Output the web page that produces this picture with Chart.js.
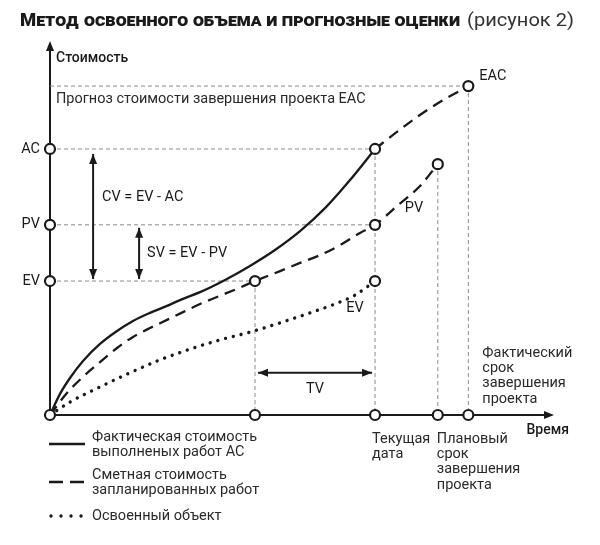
<!DOCTYPE html>
<html><head><meta charset="utf-8">
<script src="https://cdn.jsdelivr.net/npm/chart.js@4"></script>
<style>html,body{margin:0;padding:0;background:#fff}</style>
</head><body>
<canvas id="c" width="600" height="545"></canvas>
<script>
// ---- data (time units 0..120, cost units 0..100) ----
const acX = [0, 2.39, 4.78, 7.89, 11.95, 16.02, 19.84, 23.9, 27.97, 31.8, 35.86, 41.84, 47.8, 53.79, 59.77, 65.74, 71.72, 77.7];
const acY = [0, 5.7, 10.0, 14.6, 19.2, 22.7, 25.4, 27.6, 29.5, 31.4, 33.2, 36.5, 40.3, 44.6, 49.7, 55.9, 63.5, 71.9];
const forecastX = [77.7, 82.0, 87.7, 93.2, 100];
const forecastY = [71.9, 75.7, 80.5, 84.6, 88.9];
const pvX = [0, 4.06, 7.89, 11.95, 16.02, 19.84, 23.9, 27.97, 31.8, 35.86, 39.92, 44.7, 49, 55.0, 59.77, 64.55, 69.33, 74.1, 77.7, 82.95, 88.45, 92.7];
const pvY = [0, 5.95, 10.3, 14.3, 18.1, 21.1, 23.5, 25.7, 27.8, 30.0, 31.9, 34.1, 36.2, 38.9, 41.1, 43.2, 45.9, 49.2, 51.4, 56.5, 61.9, 67.8];
const evX = [0, 4.78, 11.95, 19.13, 26.3, 33.47, 40.64, 47.8, 54.98, 62.16, 68.13, 72.91, 75.78, 77.7];
const evY = [0, 3.5, 7.6, 11.4, 14.9, 17.8, 20.3, 22.4, 24.9, 27.6, 30.0, 32.4, 34.6, 36.2];

const costMarks = ['AC', 'PV', 'EV'];
const costValues = [71.9, 51.4, 36.2];
const EAC_VALUE = 88.9;
const PLAN_BUDGET = 67.8;
const timeValues = [49, 77.7, 92.7, 100];   // EV date, current date, planned end, actual end
const timeLabels = [[], ['Текущая', 'дата'], ['Плановый', 'срок', 'завершения', 'проекта'], ['Фактический', 'срок', 'завершения', 'проекта']];

const legendLabels = [['Фактическая стоимость', 'выполненых работ АС'], ['Сметная стоимость', 'запланированных работ'], ['Освоенный объект']];

const T_EV = timeValues[0], T_NOW = timeValues[1], T_PLAN = timeValues[2], T_END = timeValues[3];
const AC = costValues[0], PV = costValues[1], EV = costValues[2];

const pts = (xs, ys) => xs.map((x, i) => ({x, y: ys[i]}));
const GAP = {x: null, y: null};
const guides = [
  {x:0,y:EAC_VALUE},{x:T_END,y:EAC_VALUE},GAP,
  {x:0,y:AC},{x:T_NOW,y:AC},GAP,
  {x:0,y:PV},{x:T_NOW,y:PV},GAP,
  {x:0,y:EV},{x:T_EV,y:EV},GAP,
  {x:T_EV,y:EV},{x:T_EV,y:0},GAP,
  {x:T_NOW,y:AC},{x:T_NOW,y:0},GAP,
  {x:T_PLAN,y:PLAN_BUDGET},{x:T_PLAN,y:0},GAP,
  {x:T_END,y:EAC_VALUE},{x:T_END,y:0}
];
const markers = [
  {x:0,y:0},{x:0,y:AC},{x:0,y:PV},{x:0,y:EV},
  {x:T_EV,y:EV},{x:T_NOW,y:AC},{x:T_NOW,y:PV},{x:T_NOW,y:EV},
  {x:T_PLAN,y:PLAN_BUDGET},{x:T_END,y:EAC_VALUE},
  {x:T_EV,y:0},{x:T_NOW,y:0},{x:T_PLAN,y:0},{x:T_END,y:0}
];

const INK = '#1a1a1a';
const FONT = 'Roboto, "Noto Sans", sans-serif';

function arrowHead(ctx, x, y, dx, dy) {
  const len = 10, w = 4;
  const n = Math.hypot(dx, dy); dx /= n; dy /= n;
  ctx.beginPath();
  ctx.moveTo(x, y);
  ctx.lineTo(x - dx*len - dy*w, y - dy*len + dx*w);
  ctx.lineTo(x - dx*len + dy*w, y - dy*len - dx*w);
  ctx.closePath(); ctx.fill();
}
function dblArrow(ctx, x1, y1, x2, y2) {
  ctx.beginPath(); ctx.moveTo(x1, y1); ctx.lineTo(x2, y2); ctx.stroke();
  arrowHead(ctx, x1, y1, x1 - x2, y1 - y2);
  arrowHead(ctx, x2, y2, x2 - x1, y2 - y1);
}
function fitText(ctx, s, x, y, width) {
  const w = ctx.measureText(s).width;
  ctx.save(); ctx.translate(x, y); ctx.scale(width / w, 1); ctx.fillText(s, 0, 0); ctx.restore();
}

const drawPlugin = {
  id: 'evm',
  beforeDatasetsDraw(chart) {
    const {ctx, scales: {x, y}} = chart;
    const ox = x.getPixelForValue(0), oy = y.getPixelForValue(0);
    ctx.save();
    ctx.strokeStyle = INK; ctx.fillStyle = INK; ctx.lineWidth = 2;
    ctx.beginPath(); ctx.moveTo(ox, oy); ctx.lineTo(ox, y.getPixelForValue(100) + 4); ctx.stroke();
    arrowHead(ctx, ox, y.getPixelForValue(100) - 4, 0, -1);
    ctx.beginPath(); ctx.moveTo(ox, oy); ctx.lineTo(x.getPixelForValue(120) - 4, oy); ctx.stroke();
    arrowHead(ctx, x.getPixelForValue(120) + 2, oy, 1, 0);
    ctx.restore();
  },
  afterDatasetsDraw(chart) {
    const {ctx, scales: {x, y}} = chart;
    const ox = x.getPixelForValue(0), oy = y.getPixelForValue(0);
    ctx.save();
    ctx.fillStyle = INK; ctx.strokeStyle = INK;
    ctx.textBaseline = 'middle';

    // title
    ctx.textAlign = 'left';
    ctx.font = 'small-caps 900 18px ' + FONT;
    fitText(ctx, 'Метод освоенного объема и прогнозные оценки', 20, 21, 440);
    ctx.font = '400 18px ' + FONT;
    ctx.fillStyle = '#333';
    fitText(ctx, '(рисунок 2)', 467, 21, 107);
    ctx.fillStyle = INK;

    // axis titles
    ctx.font = '500 14px ' + FONT;
    ctx.fillText('Стоимость', ox + 6, 58);
    ctx.textAlign = 'right';
    ctx.fillText('Время', x.getPixelForValue(120) + 17, oy + 15);

    ctx.font = '400 14.5px ' + FONT;
    ctx.textAlign = 'left';
    ctx.fillStyle = '#2a2a2a';
    ctx.fillText('Прогноз стоимости завершения проекта EAC', ox + 6, y.getPixelForValue(EAC_VALUE) + 13);
    ctx.fillStyle = INK;
    ctx.fillText('EAC', x.getPixelForValue(T_END) + 11, y.getPixelForValue(EAC_VALUE) - 10);

    // cost marks at y axis
    ctx.textAlign = 'right';
    costMarks.forEach((m, i) => ctx.fillText(m, ox - 10, y.getPixelForValue(costValues[i])));

    // curve labels
    ctx.textAlign = 'center';
    ctx.fillText('PV', 414, 208);
    ctx.fillText('EV', 355, 308);

    // variance arrows
    ctx.lineWidth = 2;
    const cvX = x.getPixelForValue(10.3), svX = x.getPixelForValue(21.3);
    dblArrow(ctx, cvX, y.getPixelForValue(AC) + 5, cvX, y.getPixelForValue(EV) - 2);
    dblArrow(ctx, svX, y.getPixelForValue(PV) + 3, svX, y.getPixelForValue(EV) - 2);
    ctx.textAlign = 'left';
    ctx.fillText('CV = EV - AC', cvX + 9, 197);
    ctx.fillText('SV = EV - PV', svX + 8, 253);
    const tvY = y.getPixelForValue(11.4);
    dblArrow(ctx, x.getPixelForValue(T_EV) + 3, tvY, x.getPixelForValue(T_NOW) - 3, tvY);
    ctx.textAlign = 'center';
    ctx.fillText('TV', (x.getPixelForValue(T_EV) + x.getPixelForValue(T_NOW)) / 2, tvY + 17);

    // time labels
    ctx.textAlign = 'left';
    ctx.fillStyle = '#2a2a2a';
    timeLabels[1].forEach((s, i) => ctx.fillText(s, x.getPixelForValue(T_NOW) - 3, oy + 24 + i * 15.3));
    timeLabels[2].forEach((s, i) => ctx.fillText(s, x.getPixelForValue(T_PLAN) - 1, oy + 24 + i * 15.3));
    timeLabels[3].forEach((s, i) => ctx.fillText(s, x.getPixelForValue(T_END) + 14, 353 + i * 15.3));

    // legend
    const ds = chart.data.datasets;
    const rows = [{d: ds[0], y: 444, ty: 437}, {d: ds[2], y: 482, ty: 475}, {d: ds[3], y: 516, ty: 516}];
    rows.forEach((r, i) => {
      ctx.save();
      ctx.strokeStyle = INK;
      ctx.lineWidth = r.d.borderWidth;
      ctx.lineCap = r.d.borderCapStyle || 'butt';
      if (i === 1) ctx.setLineDash([14, 7]);
      else if (i === 2) ctx.setLineDash([0.01, 10]);
      ctx.beginPath(); ctx.moveTo(i === 2 ? 51 : 49, r.y); ctx.lineTo(85, r.y); ctx.stroke();
      ctx.restore();
      legendLabels[i].forEach((s, j) => ctx.fillText(s, 92, r.ty + j * 15.3));
    });
    ctx.restore();
  }
};

new Chart(document.getElementById('c'), {
  type: 'line',
  data: {
    datasets: [
      {label: 'AC', data: pts(acX, acY), borderColor: INK, borderWidth: 2.3, pointRadius: 0, cubicInterpolationMode: 'monotone', clip: false, order: 1},
      {label: 'EAC forecast', data: pts(forecastX, forecastY), borderColor: INK, borderWidth: 2.3, borderDash: [11, 7], pointRadius: 0, cubicInterpolationMode: 'monotone', clip: false, order: 1},
      {label: 'PV', data: pts(pvX, pvY), borderColor: INK, borderWidth: 2.3, borderDash: [11, 7], pointRadius: 0, cubicInterpolationMode: 'monotone', clip: false, order: 1},
      {label: 'EV', data: pts(evX, evY), borderColor: INK, borderWidth: 3.4, borderDash: [0.01, 8], borderCapStyle: 'round', pointRadius: 0, cubicInterpolationMode: 'monotone', clip: false, order: 1},
      {label: 'guides', data: guides, borderColor: '#8a8a8a', borderWidth: 1, borderDash: [4, 3], pointRadius: 0, tension: 0, spanGaps: false, clip: false, order: 2},
      {label: 'markers', data: markers, showLine: false, pointRadius: 5, pointBorderWidth: 2.2, pointBackgroundColor: '#fff', pointBorderColor: INK, clip: false, order: 0}
    ]
  },
  options: {
    responsive: false, animation: false, events: [],
    layout: {padding: {left: 50, right: 48, top: 45, bottom: 130}},
    scales: {
      x: {type: 'linear', min: 0, max: 120, display: false},
      y: {type: 'linear', min: 0, max: 100, display: false}
    },
    plugins: {legend: {display: false}, tooltip: {enabled: false}, title: {display: false}}
  },
  plugins: [drawPlugin]
});
</script>
</body></html>
